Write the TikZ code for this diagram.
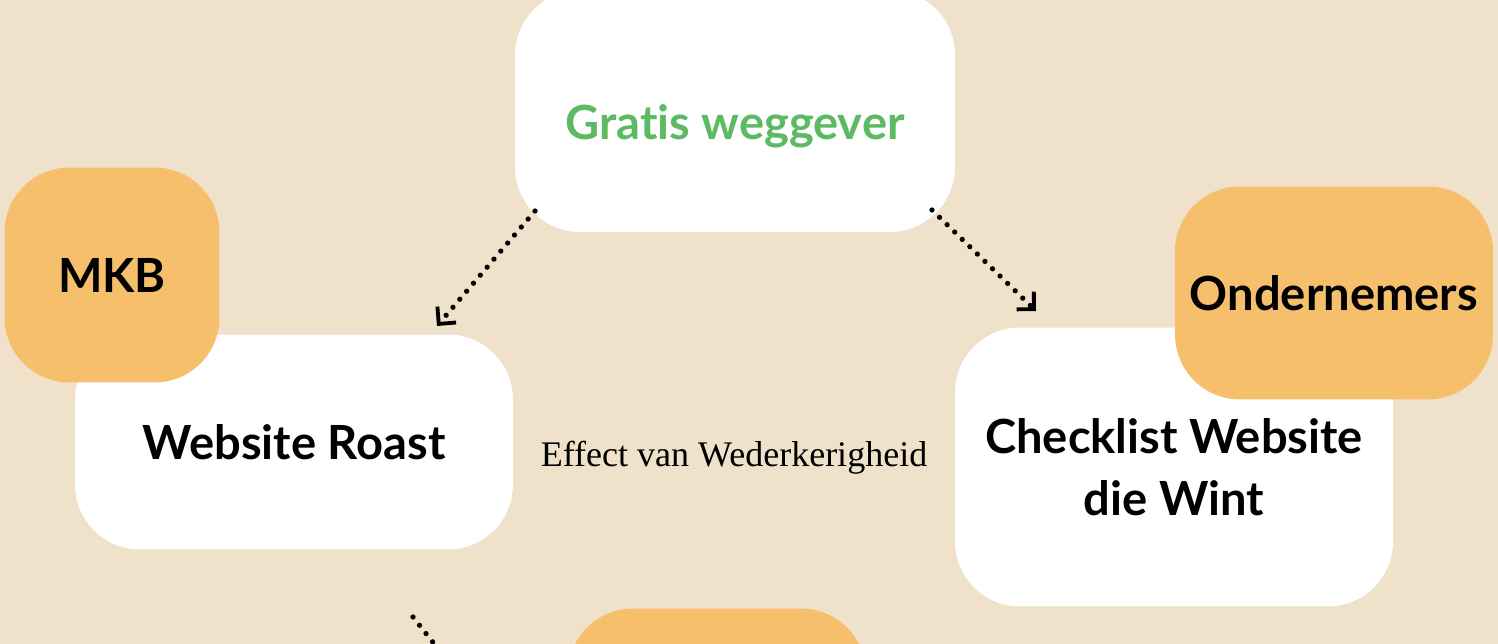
\documentclass[tikz,border=0pt]{standalone}
\usepackage{fontspec}
\setmainfont{Lato}[RawFeature=-liga]
\newfontfamily\seriffont{Liberation Serif}
\usetikzlibrary{arrows.meta}
\definecolor{bgsand}{HTML}{F0E1CA}
\definecolor{boxorange}{HTML}{F5BF6C}
\definecolor{textgreen}{HTML}{5CBA62}
\tikzset{
	whitebox/.style={fill=white, rounded corners=1.3cm, inner sep=0pt, font=\bfseries\fontsize{26.8}{35}\selectfont, align=center},
	orangebox/.style={fill=boxorange, rounded corners=1.3cm, inner sep=0pt, font=\bfseries\fontsize{26.8}{35}\selectfont, align=center},
	dotarrow/.style={line width=3pt, line cap=round, dash pattern=on 0pt off 6pt, -{Straight Barb[length=7pt,width=14pt,line width=2.2pt]}}
}
\begin{document}
\begin{tikzpicture}[x=0.02cm, y=-0.02cm]

	% background
	\fill[bgsand] (0,0) rectangle (1498,644);
	\useasboundingbox (0,0) rectangle (1498,644);
	\clip (0,0) rectangle (1498,644);

	% white boxes
	\node[whitebox, minimum width=8.8cm, minimum height=4.84cm] (gratis) at (735,111) {};
	\node[font=\bfseries\fontsize{26.8}{35}\selectfont, text=textgreen] (gratistext) at (735,126) {Gratis weggever};
	\node[whitebox, minimum width=8.76cm, minimum height=4.3cm] (roast) at (294,442) {Website Roast};
	\node[whitebox, minimum width=8.76cm, minimum height=5.58cm] (checklist) at (1174,467) {Checklist Website\\die Wint};

	% orange boxes
	\node[orangebox, minimum width=4.3cm, minimum height=4.3cm] (mkb) at (112,275) {MKB};
	\node[orangebox, minimum width=6.36cm, minimum height=4.26cm] (ondernemers) at (1334,293) {Ondernemers};
	\node[orangebox, minimum width=5.96cm, minimum height=4.3cm] (bottom) at (717,716) {};

	% label
	\node[font=\seriffont\fontsize{20.5}{24}\selectfont] (effect) at (734,458) {Effect van Wederkerigheid};

	% arrows
	\coordinate (a1) at (535,211);
	\coordinate (b1) at (437,326);
	\coordinate (a2) at (932,210);
	\coordinate (b2) at (1036,311);
	\coordinate (a3) at (413,617);
	\coordinate (b3) at (450,664);
	\draw[dotarrow] (a1) -- (b1);
	\draw[dotarrow] (a2) -- (b2);
	\draw[dotarrow, -] (a3) -- (b3);

\end{tikzpicture}
\end{document}
